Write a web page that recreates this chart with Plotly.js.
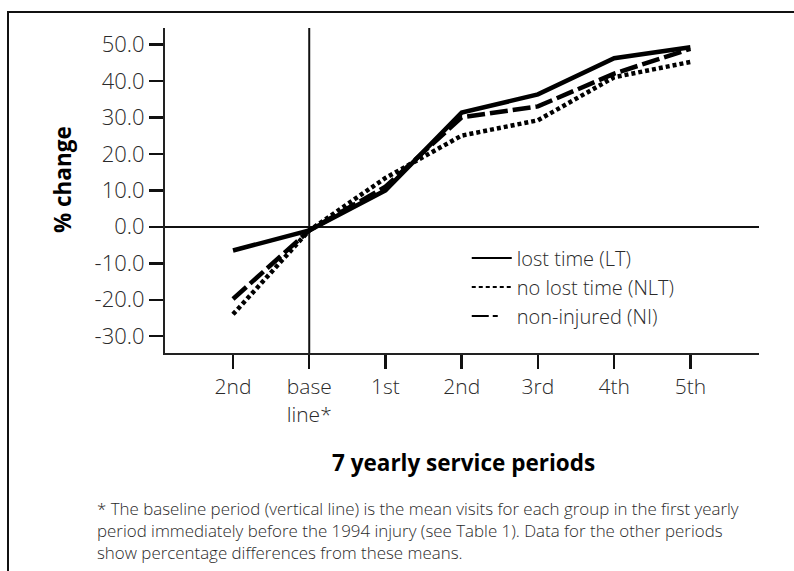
<!DOCTYPE html>
<html>
<head>
<meta charset="utf-8">
<script src="https://cdn.plot.ly/plotly-3.0.1.min.js"></script>
<style>
  html, body { margin: 0; padding: 0; background: #fff; }
  #wrap { position: relative; width: 794px; height: 571px; overflow: hidden; }
  #frame { position: absolute; left: 7px; top: 11px; width: 800px; height: 580px;
           border-left: 2px solid #111; border-top: 2px solid #111; box-sizing: border-box; }
  #chart { position: absolute; left: 0; top: 0; width: 794px; height: 571px; }
</style>
</head>
<body>
<div id="wrap">
  <div id="frame"></div>
  <div id="chart"></div>
</div>
<script>
// ---- data ----
const periods = ["2nd", "base<br>line*", "1st", "2nd", "3rd", "4th", "5th"];
const lostTime   = [-6.5, -1.0, 10.0, 31.3, 36.3, 46.2, 49.2];
const noLostTime = [-24.0, -1.0, 13.4, 25.0, 29.2, 41.0, 45.2];
const nonInjured = [-19.8, -1.0, 11.0, 30.0, 33.0, 42.0, 48.8];
const seriesNames = ["lost time (LT)", "no lost time (NLT)", "non-injured (NI)"];
const yTicks = [-30, -20, -10, 0, 10, 20, 30, 40, 50];
const footnote = "* The baseline period (vertical line) is the mean visits for each group in the first yearly<br>period immediately before the 1994 injury (see Table 1). Data for the other periods<br>show percentage differences from these means.";

const xIdx = periods.map((_, i) => i);
const fontFam = "'Open Sans', 'Noto Sans', sans-serif";
const txt = "#2a2a2a";
const dashes = ["solid", "4px,3px", "18px,5px"];
const series = [lostTime, noLostTime, nonInjured];

const traces = [];
series.forEach((s, k) => {
  traces.push({
    x: xIdx, y: s, type: "scatter", mode: "lines",
    line: { color: "#000", width: 4.5, dash: dashes[k] },
    showlegend: false, hoverinfo: "skip"
  });
});
// legend entries (thin sample lines)
const legendDashes = ["solid", "4px,3px", "17px,4px,5px,30px"];
series.forEach((s, k) => {
  traces.push({
    x: [null], y: [null], type: "scatter", mode: "lines",
    name: seriesNames[k],
    line: { color: "#000", width: 2, dash: legendDashes[k] },
    showlegend: true
  });
});

const layout = {
  width: 794, height: 571,
  margin: { l: 165, r: 35, t: 28, b: 218.3 },
  paper_bgcolor: "rgba(0,0,0,0)", plot_bgcolor: "rgba(0,0,0,0)",
  font: { family: fontFam, color: txt, size: 21, weight: 300 },
  showlegend: true,
  legend: {
    x: 0.508, xanchor: "left", y: 0.352, yanchor: "top",
    bgcolor: "rgba(0,0,0,0)", borderwidth: 0,
    font: { family: fontFam, size: 20, color: txt, weight: 300 },
    tracegroupgap: 0, itemwidth: 40, traceorder: "normal"
  },
  xaxis: {
    range: [-0.892, 6.90], tickmode: "array", tickvals: xIdx, ticktext: periods,
    showgrid: false, zeroline: false, showline: true, linecolor: "#222", linewidth: 2,
    ticks: "outside", ticklen: 14, tickwidth: 2.5, tickcolor: "#111",
    tickfont: { family: fontFam, size: 21, color: txt, weight: 300 }, fixedrange: true
  },
  yaxis: {
    range: [-34.6, 54.5], tickmode: "array", tickvals: yTicks,
    ticktext: yTicks.map(v => v.toFixed(1)),
    showgrid: false, zeroline: true, zerolinecolor: "#111", zerolinewidth: 2,
    showline: true, linecolor: "#222", linewidth: 2,
    ticks: "outside", ticklen: 14, tickwidth: 2.5, tickcolor: "#111",
    tickfont: { family: fontFam, size: 22, color: txt, weight: 300 }, fixedrange: true
  },
  shapes: [
    { type: "line", xref: "x", yref: "paper", x0: 1, x1: 1, y0: 0, y1: 1,
      line: { color: "#111", width: 2 }, layer: "below" }
  ],
  annotations: [
    { text: "<b>% change</b>", xref: "paper", yref: "paper", x: -0.1734, y: 0.532,
      xanchor: "center", yanchor: "middle", textangle: -90, showarrow: false,
      font: { family: fontFam, size: 22.5, color: "#000" } },
    { text: "<b>7 yearly service periods</b>", xref: "paper", yref: "paper", x: 0.503, y: -0.337,
      xanchor: "center", yanchor: "middle", showarrow: false,
      font: { family: fontFam, size: 22.5, color: "#000" } },
    { text: footnote, xref: "paper", yref: "paper", x: -0.118, y: -0.438,
      xanchor: "left", yanchor: "top", align: "left", showarrow: false,
      font: { family: fontFam, size: 16.9, color: txt, weight: 300 } }
  ]
};

Plotly.newPlot("chart", traces, layout, { displayModeBar: false, staticPlot: true });
</script>
</body>
</html>
